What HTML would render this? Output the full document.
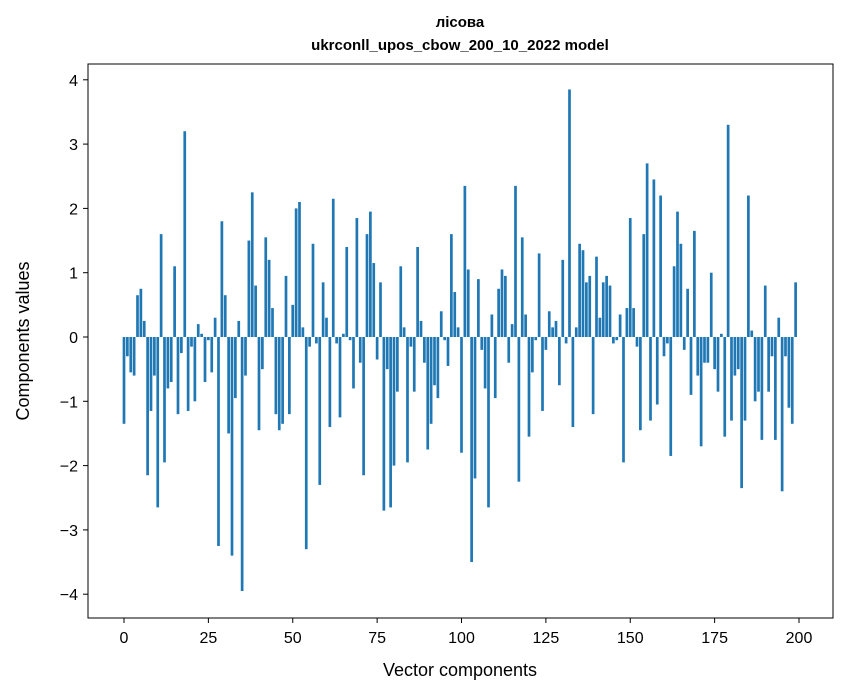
<!DOCTYPE html>
<html><head><meta charset="utf-8"><style>
body{margin:0;background:#fff}
svg{display:block;font-family:"Liberation Sans","DejaVu Sans",sans-serif}
</style></head><body>
<svg id="chart" width="847" height="696">
<rect width="847" height="696" fill="#fff"/>
<text x="460" y="27" text-anchor="middle" font-size="15" font-weight="bold">лісова</text>
<text x="460" y="50" text-anchor="middle" font-size="15" font-weight="bold">ukrconll_upos_cbow_200_10_2022 model</text>
<g id="bars"></g>
<rect x="88" y="64" width="745" height="554" fill="none" stroke="#000" stroke-width="1"/>
<g id="xticks"></g>
<g id="yticks"></g>
<text x="460" y="676" text-anchor="middle" font-size="18">Vector components</text>
<text transform="translate(29,341) rotate(-90)" text-anchor="middle" font-size="18">Components values</text>
</svg>
<script>
const values=[-1.35,-0.3,-0.55,-0.6,0.65,0.75,0.25,-2.15,-1.15,-0.6,
-2.65,1.6,-1.95,-0.8,-0.7,1.1,-1.2,-0.25,3.2,-1.15,
-0.15,-1.0,0.2,0.05,-0.7,-0.05,-0.55,0.3,-3.25,1.8,
0.65,-1.5,-3.4,-0.95,0.25,-3.95,-0.6,1.5,2.25,0.8,
-1.45,-0.5,1.55,1.2,0.45,-1.2,-1.45,-1.35,0.95,-1.2,
0.5,2.0,2.1,0.15,-3.3,-0.15,1.45,-0.1,-2.3,0.85,
0.3,-1.4,2.15,-0.1,-1.25,0.05,1.4,-0.05,-0.8,1.85,
-0.4,-2.15,1.6,1.95,1.15,-0.35,0.85,-2.7,-0.5,-2.65,
-2.0,-0.85,1.1,0.15,-1.95,-0.15,-0.85,1.4,0.25,-0.4,
-1.75,-1.35,-0.75,-0.95,0.4,-0.05,-0.45,1.6,0.7,0.15,
-1.8,2.35,1.05,-3.5,-2.2,0.9,-0.2,-0.8,-2.65,0.35,
-0.95,0.75,1.05,0.95,-0.4,0.2,2.35,-2.25,1.55,0.35,
-1.55,-0.55,-0.05,1.3,-1.15,-0.2,0.4,0.15,0.25,-0.75,
1.2,-0.1,3.85,-1.4,0.15,1.45,1.35,0.85,0.95,-1.2,
1.25,0.3,0.85,0.95,0.8,-0.1,-0.05,0.35,-1.95,0.45,
1.85,0.45,-0.15,-1.45,1.6,2.7,-1.3,2.45,-1.05,2.2,
-0.3,-0.1,-1.85,1.1,1.95,1.45,-0.2,0.75,-0.9,1.65,
-0.6,-1.7,-0.4,-0.4,1.0,-0.5,-0.85,0.05,-1.55,3.3,
-1.3,-0.6,-0.5,-2.35,-1.3,2.2,0.1,-1.0,-0.85,-1.6,
0.8,-0.85,-0.3,-1.6,0.3,-2.4,-0.3,-1.1,-1.35,0.85];
const xTicks=[0,25,50,75,100,125,150,175,200];
const yTicks=[-4,-3,-2,-1,0,1,2,3,4];
const NS="http://www.w3.org/2000/svg";
function xs(v){return 124+v*3.375;}
function ys(v){return 337-v*64.3;}
const bars=document.getElementById('bars');
values.forEach((v,i)=>{
  const r=document.createElementNS(NS,'rect');
  const y0=ys(0),y1=ys(v);
  r.setAttribute('x',xs(i-0.4));
  r.setAttribute('width',0.8*3.375);
  r.setAttribute('y',Math.min(y0,y1));
  r.setAttribute('height',Math.abs(y1-y0));
  r.setAttribute('fill','#1f77b4');
  
  
  bars.appendChild(r);
});
const xg=document.getElementById('xticks');
xTicks.forEach(t=>{
  const l=document.createElementNS(NS,'line');
  l.setAttribute('x1',xs(t));l.setAttribute('x2',xs(t));
  l.setAttribute('y1',618);l.setAttribute('y2',623);
  l.setAttribute('stroke','#000');
  xg.appendChild(l);
  const tx=document.createElementNS(NS,'text');
  tx.setAttribute('x',xs(t));tx.setAttribute('y',643);
  tx.setAttribute('text-anchor','middle');tx.setAttribute('font-size','16');
  tx.textContent=t;
  
  
  xg.appendChild(tx);
});
const yg=document.getElementById('yticks');
yTicks.forEach(t=>{
  const l=document.createElementNS(NS,'line');
  l.setAttribute('x1',83);l.setAttribute('x2',88);
  l.setAttribute('y1',ys(t));l.setAttribute('y2',ys(t));
  l.setAttribute('stroke','#000');
  yg.appendChild(l);
  const tx=document.createElementNS(NS,'text');
  tx.setAttribute('x',78);tx.setAttribute('y',ys(t)+6);
  tx.setAttribute('text-anchor','end');tx.setAttribute('font-size','16');
  tx.textContent=t<0?'\u2212'+Math.abs(t):t;
  
  
  yg.appendChild(tx);
});
</script>
</body></html>
